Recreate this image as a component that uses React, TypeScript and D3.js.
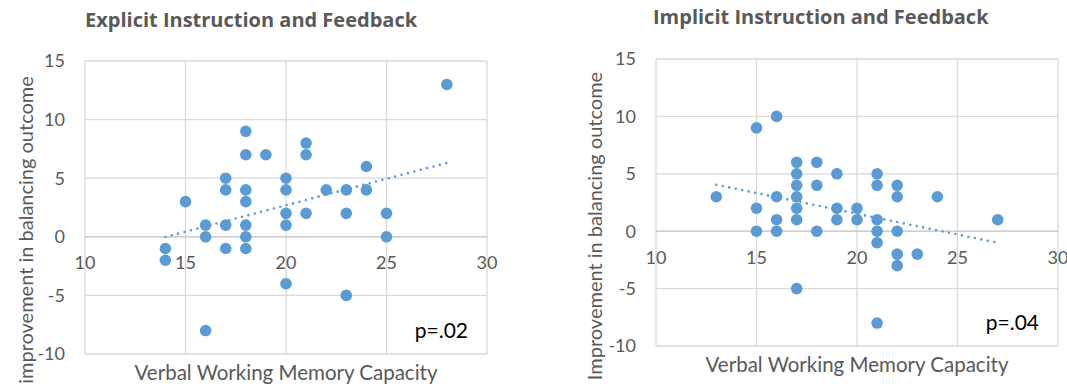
import * as d3 from "d3";

// explicit instruction group
const explicitX = [28, 18, 18, 19, 21, 21, 17, 17, 18, 20, 20, 22, 23, 24, 24, 15, 18, 16, 16, 17, 17, 18, 18, 18, 14, 14, 20, 20, 21, 23, 25, 25, 20, 23, 16];
const explicitY = [13, 9, 7, 7, 8, 7, 5, 4, 4, 5, 4, 4, 4, 4, 6, 3, 3, 1, 0, 1, -1, 1, 0, -1, -1, -2, 2, 1, 2, 2, 2, 0, -4, -5, -8];

// implicit instruction group
const implicitX = [16, 15, 17, 18, 17, 19, 21, 17, 18, 21, 22, 13, 16, 17, 22, 24, 15, 15, 16, 16, 17, 17, 18, 19, 19, 20, 20, 21, 21, 21, 22, 22, 22, 23, 27, 17, 21];
const implicitY = [10, 9, 6, 6, 5, 5, 5, 4, 4, 4, 4, 3, 3, 3, 3, 3, 2, 0, 1, 0, 2, 1, 0, 2, 1, 2, 1, 1, 0, -1, 0, -2, -3, -2, 1, -5, -8];

const xTicks = [10, 15, 20, 25, 30];
const yTicks = [-10, -5, 0, 5, 10, 15];

const FONT = "Lato, 'Open Sans', sans-serif";
const TITLE_FONT = "'Open Sans', Lato, sans-serif";
const GRAY = "#595959";
const BLUE = "#5b9bd5";

type PanelProps = {
  title: string;
  yLabel: string;
  pLabel: string;
  xs: number[];
  ys: number[];
  left: number;
  right: number;
  top: number;
  bottom: number;
  titleX: number;
  titleY: number;
  yLabelX: number;
  yLabelY: number;
};

function fit(xs: number[], ys: number[]) {
  const mx = d3.mean(xs)!;
  const my = d3.mean(ys)!;
  let num = 0;
  let den = 0;
  xs.forEach((x, i) => {
    num += (x - mx) * (ys[i] - my);
    den += (x - mx) * (x - mx);
  });
  const slope = num / den;
  return (x: number) => my + slope * (x - mx);
}

function Panel(p: PanelProps) {
  const x = d3.scaleLinear().domain([10, 30]).range([p.left, p.right]);
  const y = d3.scaleLinear().domain([-10, 15]).range([p.bottom, p.top]);
  const pts = p.xs.map((v, i) => [v, p.ys[i]] as [number, number]);
  const f = fit(p.xs, p.ys);
  const [x0, x1] = d3.extent(p.xs) as [number, number];
  const line = d3.line<number>().x((d) => x(d)).y((d) => y(f(d)));

  return (
    <g fontFamily={FONT}>
      <text x={p.titleX} y={p.titleY} fontFamily={TITLE_FONT} fontSize={20} fontWeight="bold" fill={GRAY}>
        {p.title}
      </text>
      {xTicks.map((t) => (
        <line key={"gx" + t} x1={x(t)} x2={x(t)} y1={p.top} y2={p.bottom} stroke="#d9d9d9" strokeWidth={1.3} />
      ))}
      {yTicks.map((t) => (
        <line key={"gy" + t} x1={p.left} x2={p.right} y1={y(t)} y2={y(t)} stroke={t === 0 ? "#bfbfbf" : "#d9d9d9"} strokeWidth={1.3} />
      ))}
      {yTicks.map((t) => (
        <text key={"ty" + t} x={p.left - 20} y={y(t)} dy="0.35em" textAnchor="end" fontSize={18} fill={GRAY}>
          {t}
        </text>
      ))}
      {xTicks.map((t) => (
        <text key={"tx" + t} x={x(t)} y={y(0) + 26} dy="0.35em" textAnchor="middle" fontSize={18} fill={GRAY}>
          {t}
        </text>
      ))}
      {pts.map((d, i) => (
        <circle key={i} cx={x(d[0])} cy={y(d[1])} r={5.8} fill={BLUE} />
      ))}
      <path
        d={line([x0, x1]) ?? ""}
        fill="none"
        stroke={BLUE}
        strokeWidth={2.6}
        strokeLinecap="round"
        strokeDasharray="0 6.6"
      />
      <text x={(p.left + p.right) / 2} y={p.bottom + 26} textAnchor="middle" fontSize={20.5} fill={GRAY}>
        Verbal Working Memory Capacity
      </text>
      <text
        transform={`translate(${p.yLabelX},${p.yLabelY}) rotate(-90)`}
        textAnchor="middle"
        fontSize={20}
        fill={GRAY}
      >
        {p.yLabel}
      </text>
      <text x={p.right - 19} y={y(-8)} dy="0.35em" textAnchor="end" fontSize={21} fill="#000">
        {p.pLabel}
      </text>
    </g>
  );
}

export default function App() {
  return (
    <svg width={1067} height={388} style={{ position: "absolute", left: 0, top: 0, background: "#fff" }}>
      <Panel
        title="Explicit Instruction and Feedback"
        yLabel="improvement in balancing outcome"
        pLabel="p=.02"
        xs={explicitX}
        ys={explicitY}
        left={85}
        right={487}
        top={61}
        bottom={354}
        titleX={85}
        titleY={27}
        yLabelX={33}
        yLabelY={230}
      />
      <Panel
        title="Implicit Instruction and Feedback"
        yLabel="Improvement in balancing outcome"
        pLabel="p=.04"
        xs={implicitX}
        ys={implicitY}
        left={656}
        right={1058}
        top={59}
        bottom={346}
        titleX={653}
        titleY={24}
        yLabelX={602}
        yLabelY={226}
      />
    </svg>
  );
}
